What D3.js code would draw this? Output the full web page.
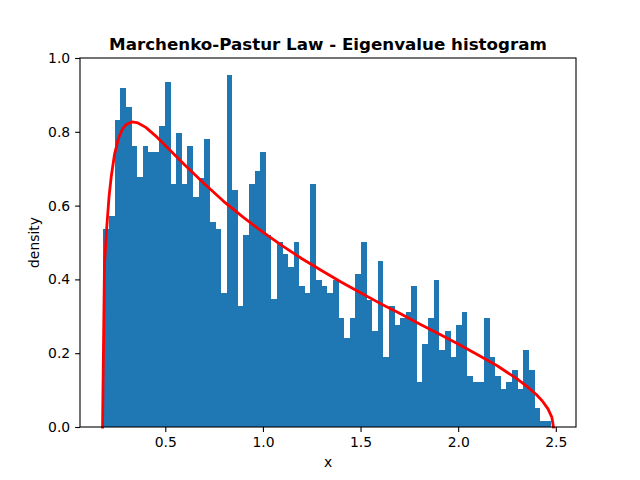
<!DOCTYPE html>
<html>
<head>
<meta charset="utf-8">
<script src="https://cdn.jsdelivr.net/npm/d3@7"></script>
<style>
  body { margin: 0; background: #fff; }
  text { font-family: "DejaVu Sans", sans-serif; }
</style>
</head>
<body>
<svg id="container"></svg>
<script>
/* CONSTANTS AND GLOBALS */
const width = 640,
  height = 480,
  margin = { top: 58, right: 64, bottom: 53, left: 80 };

/* DATA */
// histogram: 80 bins between min and max eigenvalue
const binLo = 0.183, binHi = 2.476;
const density = [
  0.537, 0.573, 0.833, 0.919, 0.867, 0.762, 0.677, 0.762, 0.745, 0.745,
  0.816, 0.935, 0.659, 0.797, 0.659, 0.762, 0.624, 0.676, 0.780, 0.556,
  0.537, 0.363, 0.954, 0.642, 0.329, 0.520, 0.659, 0.694, 0.745, 0.520,
  0.348, 0.501, 0.469, 0.434, 0.501, 0.382, 0.363, 0.659, 0.398, 0.382,
  0.363, 0.398, 0.295, 0.241, 0.295, 0.415, 0.501, 0.345, 0.260, 0.450,
  0.190, 0.328, 0.276, 0.295, 0.312, 0.382, 0.122, 0.225, 0.295, 0.398,
  0.209, 0.260, 0.190, 0.276, 0.312, 0.138, 0.122, 0.122, 0.295, 0.190,
  0.138, 0.103, 0.122, 0.155, 0.103, 0.209, 0.155, 0.051, 0.016, 0.016
];

// theoretical curve
const curveX = [0.1786, 0.1885, 0.20, 0.212, 0.223, 0.24, 0.26, 0.28, 0.30, 0.33,
  0.36, 0.40, 0.45, 0.50, 0.60, 0.70, 0.80, 0.90, 1.0, 1.1, 1.2, 1.3, 1.4,
  1.5, 1.6, 1.7, 1.8, 1.9, 2.0, 2.1, 2.2, 2.3, 2.35, 2.4, 2.43, 2.46, 2.48, 2.488];
const curveY = [0, 0.44, 0.54, 0.625, 0.678, 0.739, 0.782, 0.807, 0.820, 0.827,
  0.824, 0.812, 0.789, 0.763, 0.710, 0.659, 0.611, 0.568, 0.528, 0.491, 0.456,
  0.424, 0.393, 0.364, 0.335, 0.308, 0.280, 0.253, 0.225, 0.196, 0.166, 0.131,
  0.111, 0.088, 0.071, 0.049, 0.026, 0];

const xTicks = [0.5, 1.0, 1.5, 2.0, 2.5];
const yTicks = [0, 0.2, 0.4, 0.6, 0.8, 1.0];

const binW = (binHi - binLo) / density.length;
const bins = density.map((d, i) => ({ x0: binLo + i * binW, x1: binLo + (i + 1) * binW, y: d }));
const curve = curveX.map((x, i) => ({ x, y: curveY[i] }));

/* SCALES */
const dataMin = Math.min(binLo, curveX[0]), dataMax = Math.max(binHi, curveX[curveX.length - 1]);
const pad = (dataMax - dataMin) * 0.05;
const xScale = d3.scaleLinear()
  .domain([dataMin - pad, dataMax + pad])
  .range([margin.left, width - margin.right]);

const yScale = d3.scaleLinear()
  .domain([0, 1])
  .range([height - margin.bottom, margin.top]);

/* HTML ELEMENTS */
const svg = d3.select("#container")
  .attr("width", width)
  .attr("height", height);

svg.append("g")
  .attr("shape-rendering", "crispEdges")
  .selectAll("rect")
  .data(bins)
  .join("rect")
  .attr("x", d => xScale(d.x0))
  .attr("width", d => xScale(d.x1) - xScale(d.x0) + 0.2)
  .attr("y", d => yScale(d.y))
  .attr("height", d => yScale(0) - yScale(d.y))
  .attr("fill", "#1f77b4");

const line = d3.line()
  .x(d => xScale(d.x))
  .y(d => yScale(d.y));

svg.append("path")
  .datum(curve)
  .attr("d", line)
  .attr("fill", "none")
  .attr("stroke", "red")
  .attr("stroke-width", 2.8)
  .attr("stroke-linejoin", "round")
  .attr("stroke-linecap", "square");

// axes frame
svg.append("rect")
  .attr("x", margin.left)
  .attr("y", margin.top)
  .attr("width", width - margin.left - margin.right)
  .attr("height", height - margin.top - margin.bottom)
  .attr("fill", "none")
  .attr("stroke", "black")
  .attr("stroke-width", 1.1);

const xAxis = d3.axisBottom(xScale)
  .tickValues(xTicks)
  .tickFormat(d3.format(".1f"))
  .tickSizeInner(4.9).tickSizeOuter(0).tickPadding(4.9);
const gx = svg.append("g")
  .attr("transform", `translate(0, ${height - margin.bottom})`)
  .call(xAxis);

const yAxis = d3.axisLeft(yScale)
  .tickValues(yTicks)
  .tickFormat(d3.format(".1f"))
  .tickSizeInner(4.9).tickSizeOuter(0).tickPadding(4.9);
const gy = svg.append("g")
  .attr("transform", `translate(${margin.left}, 0)`)
  .call(yAxis);

[gx, gy].forEach(g => {
  g.select(".domain").remove();
  g.selectAll(".tick line").attr("stroke", "black").attr("stroke-width", 1.1);
  g.selectAll(".tick text")
    .attr("fill", "black")
    .style("font-family", "DejaVu Sans")
    .style("font-size", "13.9px");
});

svg.append("text")
  .attr("x", (margin.left + width - margin.right) / 2)
  .attr("y", 50)
  .attr("text-anchor", "middle")
  .style("font-size", "16.7px")
  .style("font-weight", "bold")
  .text("Marchenko-Pastur Law - Eigenvalue histogram");

svg.append("text")
  .attr("x", (margin.left + width - margin.right) / 2)
  .attr("y", 467)
  .attr("text-anchor", "middle")
  .style("font-size", "13.9px")
  .text("x");

svg.append("text")
  .attr("transform", `translate(39, ${(margin.top + height - margin.bottom) / 2}) rotate(-90)`)
  .attr("text-anchor", "middle")
  .style("font-size", "13.9px")
  .text("density");
</script>
</body>
</html>
